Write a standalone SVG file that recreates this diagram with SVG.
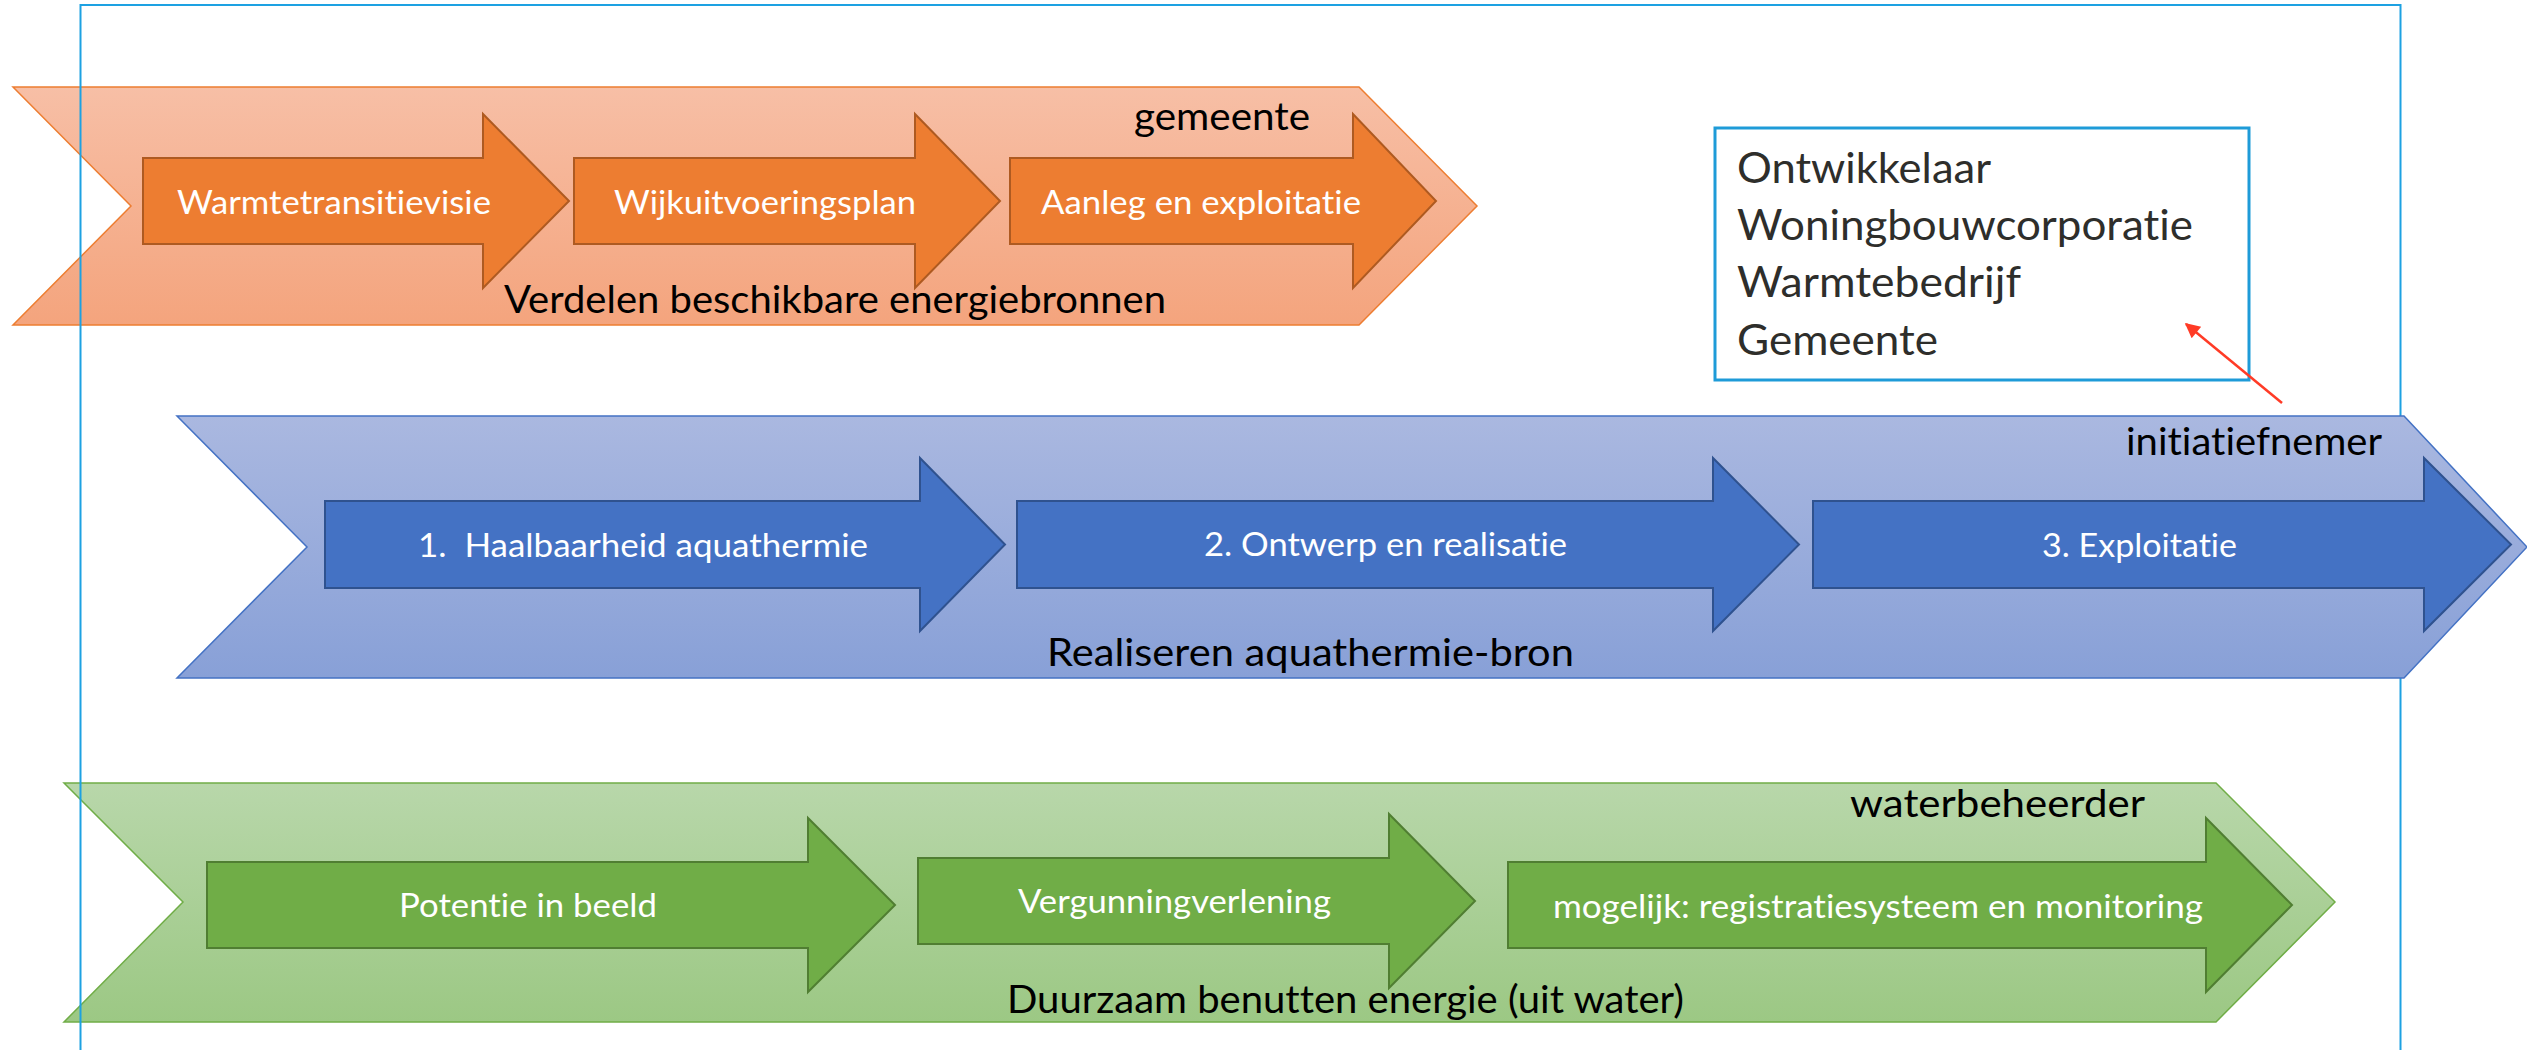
<svg xmlns="http://www.w3.org/2000/svg" width="2527" height="1050" viewBox="0 0 2527 1050">
<defs>
<linearGradient id="gO" x1="0" y1="0" x2="0" y2="1"><stop offset="0" stop-color="#F7BFA6"/><stop offset="1" stop-color="#F4A47D"/></linearGradient>
<linearGradient id="gB" x1="0" y1="0" x2="0" y2="1"><stop offset="0" stop-color="#AAB8E0"/><stop offset="1" stop-color="#88A0D7"/></linearGradient>
<linearGradient id="gG" x1="0" y1="0" x2="0" y2="1"><stop offset="0" stop-color="#B8D7AA"/><stop offset="1" stop-color="#9CC884"/></linearGradient>
<marker id="redHead" viewBox="0 0 10 10" refX="9" refY="5" markerWidth="7" markerHeight="6" orient="auto" markerUnits="strokeWidth"><path d="M0,0 L10,5 L0,10 z" fill="#FF3B26"/></marker>
</defs>
<style>
text{font-family:"Lato","Liberation Sans",sans-serif;white-space:pre;font-variant-ligatures:none;font-feature-settings:"liga" 0}
.blk{font-size:38.5px;fill:#000}
.wht{font-size:33.5px;fill:#fff}
.box{font-size:42.5px;fill:#2E2E2B}
.chO{fill:url(#gO);stroke:#ED7D31;stroke-width:1.5}
.chB{fill:url(#gB);stroke:#4472C4;stroke-width:1.5}
.chG{fill:url(#gG);stroke:#70AD47;stroke-width:1.5}
.arO{fill:#ED7D31;stroke:#AE5A21;stroke-width:2}
.arB{fill:#4472C4;stroke:#2F528F;stroke-width:2}
.arG{fill:#70AD47;stroke:#507E32;stroke-width:2}
</style>

<g id="chevron-gemeente">
<polygon class="chO" points="13,87 1359,87 1477,206 1359,325 13,325 131,206"/>
<text class="blk" x="1134" y="130" textLength="176" lengthAdjust="spacingAndGlyphs">gemeente</text>
<text class="blk" x="504" y="313" textLength="662" lengthAdjust="spacingAndGlyphs">Verdelen beschikbare energiebronnen</text>
</g>
<g id="step-warmtetransitievisie">
<polygon class="arO" points="143,158 483,158 483,114 569,201 483,288 483,244 143,244"/>
<text class="wht" x="177" y="214" textLength="314" lengthAdjust="spacingAndGlyphs">Warmtetransitievisie</text>
</g>
<g id="step-wijkuitvoeringsplan">
<polygon class="arO" points="574,158 915,158 915,114 1000,201 915,288 915,244 574,244"/>
<text class="wht" x="614" y="214" textLength="302" lengthAdjust="spacingAndGlyphs">Wijkuitvoeringsplan</text>
</g>
<g id="step-aanleg">
<polygon class="arO" points="1010,158 1353,158 1353,114 1436,201 1353,288 1353,244 1010,244"/>
<text class="wht" x="1041" y="214" textLength="320" lengthAdjust="spacingAndGlyphs">Aanleg en exploitatie</text>
</g>

<g id="chevron-waterbeheerder">
<polygon class="chG" points="64,783 2216,783 2335,902 2216,1022 64,1022 183,902"/>
<text class="blk" x="1850" y="817" textLength="295" lengthAdjust="spacingAndGlyphs">waterbeheerder</text>
<text class="blk" x="1007" y="1013" textLength="677" lengthAdjust="spacingAndGlyphs">Duurzaam benutten energie (uit water)</text>
</g>
<g id="step-potentie">
<polygon class="arG" points="207,862 808,862 808,818 895,905 808,992 808,948 207,948"/>
<text class="wht" x="399" y="917" textLength="258" lengthAdjust="spacingAndGlyphs">Potentie in beeld</text>
</g>
<g id="step-vergunning">
<polygon class="arG" points="918,858 1389,858 1389,814 1475,901 1389,988 1389,944 918,944"/>
<text class="wht" x="1018" y="913" textLength="313" lengthAdjust="spacingAndGlyphs">Vergunningverlening</text>
</g>
<g id="step-monitoring">
<polygon class="arG" points="1508,862 2206,862 2206,818 2292,905 2206,992 2206,948 1508,948"/>
<text class="wht" x="1553" y="918" textLength="650" lengthAdjust="spacingAndGlyphs">mogelijk: registratiesysteem en monitoring</text>
</g>

<g id="frame">
<rect x="80.5" y="5" width="2320" height="1100" fill="none" stroke="#1DA1E2" stroke-width="2"/>
</g>

<g id="chevron-initiatiefnemer">
<polygon class="chB" points="177,416 2404,416 2527,547 2404,678 177,678 307,547"/>
<text class="blk" x="2126" y="455" textLength="256" lengthAdjust="spacingAndGlyphs">initiatiefnemer</text>
<text class="blk" x="1047" y="666" textLength="527" lengthAdjust="spacingAndGlyphs">Realiseren aquathermie-bron</text>
</g>
<g id="step-haalbaarheid">
<polygon class="arB" points="325,501 920,501 920,458 1005,544.5 920,631 920,588 325,588"/>
<text class="wht" x="418" y="557" textLength="450" lengthAdjust="spacingAndGlyphs">1.  Haalbaarheid aquathermie</text>
</g>
<g id="step-ontwerp">
<polygon class="arB" points="1017,501 1713,501 1713,458 1799,544.5 1713,631 1713,588 1017,588"/>
<text class="wht" x="1204" y="556" textLength="363" lengthAdjust="spacingAndGlyphs">2. Ontwerp en realisatie</text>
</g>
<g id="step-exploitatie">
<polygon class="arB" points="1813,501 2424,501 2424,458 2511,544.5 2424,631 2424,588 1813,588"/>
<text class="wht" x="2042" y="557" textLength="195" lengthAdjust="spacingAndGlyphs">3. Exploitatie</text>
</g>

<g id="actors-box">
<rect x="1715" y="128" width="534" height="252" fill="#fff" stroke="#1E9BD8" stroke-width="3"/>
<text class="box" x="1737" y="183" textLength="254" lengthAdjust="spacingAndGlyphs">Ontwikkelaar</text>
<text class="box" x="1737" y="240" textLength="456" lengthAdjust="spacingAndGlyphs">Woningbouwcorporatie</text>
<text class="box" x="1737" y="297" textLength="284" lengthAdjust="spacingAndGlyphs">Warmtebedrijf</text>
<text class="box" x="1737" y="355" textLength="201" lengthAdjust="spacingAndGlyphs">Gemeente</text>
</g>

<g id="connectors">
<line x1="2282" y1="403" x2="2186" y2="324" stroke="#FF3B26" stroke-width="2.5" marker-end="url(#redHead)"/>
</g>
</svg>
